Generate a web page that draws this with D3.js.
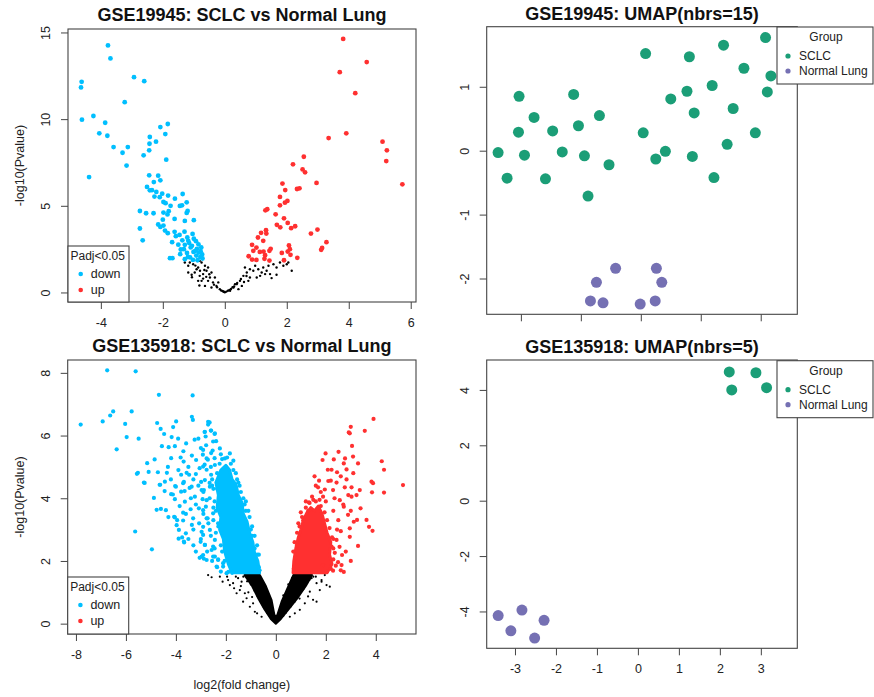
<!DOCTYPE html>
<html>
<head>
<meta charset="utf-8">
<script src="https://cdn.jsdelivr.net/npm/d3@7/dist/d3.min.js"></script>
<style>
  body { margin: 0; background: #fff; }
  svg { font-family: "Liberation Sans", Arial, Helvetica, sans-serif; }
</style>
</head>
<body>
<svg id="fig" width="874" height="697"></svg>
<script>
// ---- GSE19945 volcano (log2FC, -log10 p) ----
var tlDown = [[-3.77,14.25],[-3.69,13.50],[-4.62,12.15],[-4.64,11.83],[-2.93,12.42],[-2.60,12.19],[-3.23,10.98],[-4.61,9.97],[-4.24,10.18],[-3.86,9.79],[-2.08,9.54],[-1.84,9.72],[-4.05,9.18],[-3.79,9.04],[-2.42,8.97],[-1.92,9.14],[-2.22,8.70],[-2.43,8.58],[-3.59,8.39],[-3.13,8.39],[-3.30,8.06],[-2.44,8.20],[-2.62,7.91],[-3.17,7.32],[-1.89,7.66],[-4.38,6.66],[-2.44,6.76],[-2.15,6.74],[-2.29,6.37],[-2.08,6.47],[-2.51,6.09],[-2.42,5.89],[-2.21,5.80],[-2.27,5.53],[-2.02,5.70],[-1.83,5.59],[-1.98,5.22],[-1.91,5.15],[-1.61,5.41],[-1.36,5.68],[-1.45,4.99],[-1.38,5.03],[-1.23,5.20],[-2.74,4.70],[-2.54,4.57],[-2.30,4.57],[-1.98,4.61],[-1.81,4.69],[-1.62,4.24],[-1.23,4.59],[-1.20,4.70],[-1.29,4.13],[-1.00,4.17],[-2.15,3.92],[-2.08,3.78],[-1.98,3.86],[-1.93,3.57],[-2.74,3.69],[-1.84,3.42],[-2.65,3.01],[-1.58,3.25],[-1.46,3.32],[-1.30,3.51],[-1.21,3.17],[-1.04,3.38],[-1.37,3.01],[-1.18,2.98],[-0.93,2.96],[-1.50,2.76],[-1.29,2.75],[-1.06,2.69],[-0.85,2.78],[-1.77,1.98],[-1.69,1.98],[-1.44,2.21],[-1.22,2.28],[-1.19,2.05],[-1.01,2.34],[-0.92,2.13],[-0.79,2.04],[-1.03,1.88],[-1.29,1.92],[-0.88,1.86],[-0.72,1.96],[-1.12,2.02],[-1.42,2.48],[-0.90,2.52],[-0.78,2.38],[-0.73,2.19],[-1.10,2.60],[-0.95,2.40],[-1.15,2.85],[-0.84,2.30],[-1.32,2.50],[-1.00,3.10],[-0.76,2.60],[-1.62,3.50],[-1.70,2.90],[-2.00,4.20],[-1.75,5.00],[-2.10,5.50],[-2.35,5.90],[-1.85,4.50]];
var tlUp = [[3.82,14.63],[4.58,13.29],[3.71,12.71],[4.21,11.50],[3.35,8.91],[3.92,9.18],[5.09,8.70],[5.23,8.20],[5.21,7.58],[5.73,6.24],[2.55,7.83],[2.20,7.39],[2.51,7.10],[2.59,6.93],[2.96,6.32],[1.86,6.28],[1.95,5.91],[2.33,5.97],[2.41,6.01],[1.78,5.51],[2.02,5.28],[1.94,5.18],[1.78,5.03],[1.37,4.80],[1.31,4.74],[1.64,4.51],[1.91,4.28],[2.03,4.01],[1.68,3.90],[1.79,3.76],[2.14,3.71],[2.27,3.82],[1.33,3.59],[1.34,3.40],[1.17,3.44],[1.07,3.17],[1.24,2.98],[2.78,3.40],[2.99,3.63],[3.28,2.90],[3.14,2.57],[3.11,2.46],[0.88,2.75],[1.02,2.59],[0.92,2.40],[1.13,2.34],[1.25,2.36],[1.30,2.15],[1.48,2.52],[1.44,2.40],[2.07,2.71],[2.10,2.50],[2.03,2.36],[1.84,2.28],[2.12,2.17],[0.77,2.09],[0.88,1.90],[1.02,1.88],[1.28,1.94],[1.44,1.84],[1.91,1.86],[2.34,2.00]];
var tlNs = [[-1.29,1.73],[-1.18,1.54],[-1.02,1.63],[-0.86,1.44],[-0.75,1.73],[-0.64,1.54],[-0.97,1.15],[-0.81,0.96],[-0.70,1.06],[-0.59,1.25],[-0.48,0.86],[-0.75,0.67],[-0.64,0.38],[-0.38,0.58],[-0.27,0.38],[-0.16,0.19],[-0.05,0.06],[-0.54,0.67],[-0.43,0.29],[-0.86,0.67],[-1.07,1.02],[-1.18,1.15],[-0.91,1.34],[-0.54,1.44],[-0.43,1.15],[-0.32,0.86],[-0.21,0.58],[-0.81,1.82],[-1.13,1.73],[-1.06,0.88],[-0.82,0.40],[-0.60,0.90],[-0.70,0.80],[-0.66,1.30],[-0.50,1.05],[-0.35,0.45],[-0.25,0.30],[-0.12,0.12],[-0.95,1.55],[-0.80,1.25],
  [0.00,0.01],[0.05,0.05],[-0.03,0.04],[0.10,0.10],[-0.08,0.09],[0.15,0.15],[0.20,0.20],[0.25,0.30],[0.30,0.35],
  [0.17,0.10],[0.28,0.29],[0.38,0.48],[0.49,0.67],[0.60,0.96],[0.71,1.15],[0.65,1.44],[0.81,1.34],[0.92,1.25],[0.98,1.54],[1.08,1.34],[1.19,1.15],[1.24,1.44],[1.35,1.25],[1.46,1.06],[1.51,0.83],[1.67,1.02],[1.78,1.73],[1.89,1.54],[2.00,1.63],[2.05,1.73],[2.16,1.25],[1.67,1.44],[1.57,1.63],[1.14,0.96],[0.81,0.86],[0.55,0.38],[0.44,0.19],[0.33,0.48],[0.76,0.67],[1.03,0.86],[1.41,1.54],[1.30,1.06],[0.40,0.55],[0.52,0.78],[0.62,0.60],[0.70,0.95]];

// ---- GSE19945 UMAP ----
var trSCLC = [[-2.38,-0.03],[-2.23,-0.43],[-2.03,0.85],[-2.04,0.29],[-1.94,-0.07],[-1.78,0.52],[-1.59,-0.44],[-1.47,0.31],[-1.31,-0.02],[-1.12,0.88],[-1.04,0.39],[-0.94,-0.08],[-0.88,-0.71],[-0.69,0.55],[-0.53,-0.22],[0.08,1.52],[0.04,0.28],[0.25,-0.13],[0.41,-0.01],[0.50,0.81],[0.77,0.93],[0.81,1.47],[0.89,0.59],[0.86,-0.09],[1.19,1.02],[1.22,-0.42],[1.38,1.65],[1.44,0.10],[1.54,0.66],[1.72,1.29],[1.91,0.28],[2.08,1.77],[2.17,1.17],[2.11,0.92]];
var trNormal = [[-0.42,-1.84],[-0.74,-2.06],[-0.84,-2.35],[-0.63,-2.38],[-0.01,-2.40],[0.24,-2.35],[0.35,-2.06],[0.26,-1.84]];

// ---- GSE135918 volcano ----
var blDown = [[-6.75,8.08],[-5.61,8.05],[-4.68,7.30],[-3.33,7.28],[-6.51,6.77],[-6.63,6.64],[-6.93,6.45],[-5.77,6.77],[-7.81,6.35],[-6.03,6.37],[-4.75,6.40],[-3.99,6.45],[-3.36,6.60],[-3.32,6.50],[-4.61,6.21],[-4.11,6.27],[-5.97,5.95],[-5.49,5.90],[-4.47,6.05],[-4.17,5.95],[-3.91,5.90],[-6.37,5.56],[-4.56,5.66],[-4.29,5.63],[-4.04,5.66],[-3.59,5.75],[-3.25,5.87],[-2.65,6.42],[-2.71,6.35],[-2.85,6.11],[-2.81,5.97],[-2.59,6.16],[-2.45,6.05],[-5.15,5.12],[-4.85,5.24],[-4.19,5.28],[-4.32,5.00],[-3.81,5.30],[-3.69,5.17],[-3.36,5.36],[-3.19,5.22],[-5.52,4.81],[-5.56,4.78],[-5.09,4.84],[-4.72,4.83],[-4.36,4.81],[-5.25,4.49],[-4.63,4.43],[-4.03,4.39],[-3.57,4.81],[-3.79,4.75],[-3.68,4.52],[-3.47,4.75],[-3.20,4.77],[-3.05,4.96],[-2.85,5.07],[-2.72,5.23],[-2.59,5.44],[-2.79,5.69],[-2.39,5.82],[-2.45,5.28],[-2.92,5.39],[-2.77,4.91],[-2.59,4.75],[-2.65,4.49],[-2.99,4.52],[-3.45,4.33],[-3.65,4.23],[-4.88,4.01],[-4.45,4.23],[-4.12,4.12],
  [-5.63,2.94],[-4.96,2.37],[-5.28,4.50],[-4.65,4.43],[-4.60,3.66],[-4.40,3.62],[-4.19,4.13],[-4.04,3.97],[-4.00,4.37],[-3.79,4.21],[-3.71,4.48],[-3.64,3.89],[-3.71,3.54],[-4.04,3.39],[-3.97,3.14],[-3.71,3.29],[-3.60,2.88],[-3.89,2.71],[-3.67,2.59],[-3.41,3.65],[-3.31,3.36],[-3.36,3.15],[-3.07,3.20],[-2.97,2.93],[-3.01,2.61],[-2.84,2.51],[-3.08,3.68],[-2.80,3.73],[-2.93,3.97],[-2.73,3.36],[-2.64,2.99],[-2.57,2.35],[-2.88,2.07],[-2.77,2.03],[-2.51,2.14],[-2.31,2.05],[-2.35,1.80],[-2.11,1.93],[-2.20,1.66],[-2.44,2.67],[-2.31,3.20],[-2.51,3.52],[-2.64,4.37],[-2.97,4.26],[-3.24,4.05],[-3.37,4.37],[-4.44,4.53],
  [-2.71,6.44],[-2.84,6.12],[-2.60,6.16],[-2.51,5.81],[-2.44,6.07],[-2.91,5.54],[-2.53,5.52],[-2.24,5.59],[-1.84,5.43],[-2.04,5.27],[-2.77,5.27],[-2.91,5.01],[-2.44,5.06],[-2.84,4.58],[-2.88,4.26],[-2.77,3.94],[-2.91,3.62],[-2.77,3.36],[-2.91,3.09],[-2.91,2.83],[-2.84,2.51],[-2.91,2.19],[-2.51,2.46],[-2.44,2.14],[-2.31,2.03],[-2.37,1.82],[-2.11,1.82],[-1.97,1.61],
  [-3.88,2.99],[-3.68,2.62],[-4.07,3.41],[-4.77,3.63],[-2.97,2.14],[-3.20,2.30],[-3.05,2.10],[-3.30,2.50],[-3.50,2.70],
  [-3.50,5.00],[-3.30,4.60],[-3.10,4.40],[-2.90,4.20],[-3.40,4.00],[-3.20,3.80],[-2.90,3.50],[-3.60,3.50],[-3.30,3.00],[-2.70,3.20],[-2.60,2.80],[-3.00,2.70],[-2.75,2.30],[-2.55,2.00],[-2.65,4.00],[-2.55,4.60],[-2.60,5.00],[-3.00,5.60],[-3.10,5.90],[-3.70,5.50],[-3.90,4.90],[-4.20,4.60],[-3.85,3.75],[-4.30,3.40],[-3.95,3.30],[-3.75,2.75],[-2.50,3.70],[-2.50,4.30],[-2.20,5.40],[-2.00,5.00],
  [-1.70,4.90],[-1.50,4.50],[-1.40,4.20],[-1.25,3.80],[-1.20,3.60],[-1.00,3.00],[-0.95,2.80],[-0.85,2.40],[-0.75,2.20],[-0.68,1.80],[-0.65,1.70],[-1.90,1.65],[-1.75,1.62],
  [-2.45,2.40],[-2.40,2.90],[-2.50,3.30],[-2.45,3.90],[-2.55,4.40],[-2.35,4.80],[-2.25,5.10],[-2.15,5.25],[-1.95,5.30],[-1.70,5.20],[-1.60,4.80],[-1.45,4.40],[-1.30,4.00],[-1.20,3.90],[-1.05,3.40],[-0.95,3.10],[-0.85,2.80],[-0.75,2.50],[-0.68,2.20],[-2.20,2.50],[-2.30,3.10],[-2.40,3.60],[-2.35,4.30],[-2.05,2.00],[-2.15,2.30],[-1.10,3.60],[-1.55,4.60],[-1.80,5.10]];
var blDownCore = [[-2.20,4.90],[-2.00,5.05],[-1.85,4.90],[-1.75,4.60],[-1.60,4.45],[-1.50,4.10],[-1.35,3.85],[-1.30,3.50],[-1.15,3.25],[-1.05,2.90],[-0.92,2.60],[-0.85,2.25],[-0.72,2.00],[-0.65,1.62],[-1.75,1.62],[-1.90,1.90],[-2.05,2.30],[-2.10,2.70],[-2.25,3.00],[-2.20,3.40],[-2.35,3.70],[-2.30,4.10],[-2.40,4.50]];
var blUp = [[3.91,6.53],[3.00,6.28],[2.92,6.10],[2.96,6.07],[3.56,6.15],[3.05,5.67],[2.51,5.48],[1.99,5.43],[3.09,5.33],[1.87,5.22],[2.32,5.24],[2.77,5.27],[2.72,5.11],[3.29,5.11],[4.24,5.18],[4.33,4.91],[2.08,4.91],[2.23,4.91],[2.45,4.83],[2.83,4.92],[1.73,4.56],[2.20,4.56],[2.43,4.50],[2.83,4.60],[1.69,4.35],[1.96,4.28],[2.29,4.26],[2.76,4.35],[3.03,4.35],[3.36,4.26],[3.83,4.53],[3.89,4.48],[3.85,4.19],[4.33,4.18],[5.09,4.42],[1.32,3.87],[1.89,4.05],[2.56,3.94],[3.03,4.05],[3.23,4.10],[3.39,3.68],[2.72,3.73],[2.89,3.47],[3.12,3.25],[3.63,3.31],[3.73,3.09],[2.96,3.04],[3.25,3.31],[2.96,2.77],[3.29,2.48],[2.65,2.19],[2.36,2.26],[2.49,1.96],[2.63,1.87],[2.29,1.69],[2.72,1.65],[1.89,1.87],[2.23,2.46],[2.43,2.67],[3.87,2.96],
  [0.90,3.20],[1.00,3.55],[1.20,3.90],[1.45,4.05],[1.60,4.40],[1.80,4.20],[2.00,3.90],[2.30,3.60],[2.50,3.30],[2.60,2.95],[2.55,2.45],[2.40,1.85],[2.05,1.66],[1.10,3.30],[1.30,3.60],[2.70,3.80],[2.90,4.10],[3.00,3.60],[2.35,4.00],[1.55,4.70],[2.60,4.70],[3.10,4.80],[2.10,4.55],[2.80,2.30],[3.00,2.00],[2.60,1.70],[2.30,2.70],[2.45,3.00],[0.72,1.75],[0.78,2.10],[0.85,2.50],
  [0.70,2.30],[0.75,2.60],[0.85,2.90],[0.95,3.10],[1.05,3.40],[1.20,3.70],[1.35,3.85],[1.60,3.90],[1.80,3.75],[1.95,3.55],[2.05,3.30],[2.15,3.05],[2.25,2.75],[2.30,2.40],[2.30,2.05],[2.20,1.75],[1.50,3.95],[1.75,3.95]];
var blUpCore = [[0.69,1.62],[0.72,2.00],[0.80,2.40],[0.90,2.75],[1.00,3.00],[1.10,3.30],[1.25,3.55],[1.40,3.70],[1.55,3.60],[1.70,3.75],[1.85,3.50],[1.95,3.20],[2.05,2.90],[2.20,2.60],[2.15,2.20],[2.25,1.90],[2.05,1.62]];
var blNs = [[-2.71,1.55],[-2.57,1.48],[-2.13,1.34],[-1.91,1.39],[-1.84,1.23],[-1.71,1.29],[-1.67,1.13],[-1.51,1.45],[-1.37,1.34],[-1.24,0.97],[-1.17,0.81],[-1.31,0.70],[-1.04,0.54],[-0.91,0.65],[-0.84,0.38],[-0.75,0.33],[-0.57,0.22],[-1.44,1.07],[-1.57,0.97],[-2.24,1.50],[-1.95,1.50],[-1.60,1.50],[-1.40,1.20],[-1.10,1.00],[-0.95,0.85],
  [1.43,1.45],[1.63,1.29],[1.83,1.39],[1.96,1.55],[2.03,1.23],[1.36,1.02],[1.49,0.76],[1.63,0.70],[1.16,0.65],[0.96,0.44],[0.76,0.33],[0.56,0.22],[1.29,0.87],[1.76,1.07],[1.09,1.18],[2.16,1.18],[1.83,1.34],[1.60,1.50],[1.25,1.30],[0.95,0.80],
  [-1.30,1.50],[-1.15,1.35],[-1.00,1.25],[-0.85,1.05],[-0.75,0.90],[-0.60,0.70],[-0.50,0.55],[-0.35,0.35],[-0.25,0.25],[1.50,1.50],[1.35,1.40],[1.10,1.10],[0.95,0.95],[0.75,0.70],[0.60,0.55],[0.40,0.35],[0.30,0.25],[-0.60,1.45],[-0.45,1.20],[-0.30,0.90],[0.30,0.90],[0.50,1.25],[0.65,1.45]];
var blNsCore = [[-1.25,1.55],[-0.95,1.20],[-0.70,0.80],[-0.45,0.45],[-0.20,0.15],[0.00,0.00],[0.20,0.15],[0.50,0.45],[0.85,0.80],[1.20,1.20],[1.45,1.55],[0.70,1.55],[0.45,1.10],[0.23,0.70],[0.05,0.25],[-0.05,0.25],[-0.17,0.75],[-0.40,1.20],[-0.64,1.55]];

// ---- GSE135918 UMAP ----
var brSCLC = [[2.23,4.65],[2.88,4.62],[2.29,4.00],[3.14,4.08]];
var brNormal = [[-3.41,-4.15],[-2.83,-3.95],[-3.10,-4.70],[-2.29,-4.32],[-2.52,-4.96]];

// ticks
var tlXTicks = [-4, -2, 0, 2, 4, 6], tlYTicks = [0, 5, 10, 15];
var trXTicks = [-2, -1, 0, 1, 2], trYTicks = [-2, -1, 0, 1];
var blXTicks = [-8, -6, -4, -2, 0, 2, 4], blYTicks = [0, 2, 4, 6, 8];
var brXTicks = [-3, -2, -1, 0, 1, 2, 3], brYTicks = [-4, -2, 0, 2, 4];

var groups = ["SCLC", "Normal Lung"];
var dirs = ["down", "up"];

var BLUE = "#00bfff", RED = "#ff3030", GREEN = "#1b9e77", PURPLE = "#7570b3";

var svg = d3.select("#fig");
var defs = svg.append("defs");

function makePanel(o) {
  var id = "clip" + o.id;
  defs.append("clipPath").attr("id", id).append("rect")
    .attr("x", o.clip[0]).attr("y", o.clip[1]).attr("width", o.clip[2]).attr("height", o.clip[3]);
  var g = svg.append("g").attr("clip-path", "url(#" + id + ")");

  var x = d3.scaleLinear().domain(o.xDom).range([o.x0, o.x1]);
  var y = d3.scaleLinear().domain(o.yDom).range([o.y1, o.y0]);

  g.append("text")
    .attr("x", (o.x0 + o.x1) / 2).attr("y", o.titleY).attr("dy", "0.35em")
    .attr("text-anchor", "middle").attr("font-weight", "bold").attr("font-size", 18)
    .attr("fill", "#111").text(o.title);

  var xa = g.append("g").attr("transform", "translate(0," + o.y1 + ")")
    .call(d3.axisBottom(x).tickValues(o.xTicks).tickSize(7).tickPadding(9)
      .tickFormat(o.xLabels ? (d => String(d)) : ""));
  var ya = g.append("g").attr("transform", "translate(" + o.x0 + ",0)")
    .call(d3.axisLeft(y).tickValues(o.yTicks).tickSize(7).tickFormat(d => String(d)));
  [xa, ya].forEach(a => {
    a.select(".domain").remove();
    a.selectAll("line").attr("stroke", "#444");
    a.selectAll("text").attr("font-size", 12.5).attr("fill", "#222")
      .attr("font-family", "'Liberation Sans', Arial, sans-serif");
  });
  ya.selectAll("text")
    .attr("x", null).attr("dy", "0.35em").attr("text-anchor", "middle")
    .attr("transform", "translate(-22,0) rotate(-90)");

  if (o.ylab) {
    g.append("text")
      .attr("transform", "translate(" + o.ylabX + "," + (o.y0 + o.y1) / 2 + ") rotate(-90)")
      .attr("dy", "0.35em").attr("text-anchor", "middle").attr("font-size", 12.5)
      .attr("fill", "#222").text(o.ylab);
  }
  if (o.xlab) {
    g.append("text")
      .attr("x", (o.x0 + o.x1) / 2).attr("y", o.xlabY).attr("dy", "0.35em")
      .attr("text-anchor", "middle").attr("font-size", 12.5).attr("fill", "#222").text(o.xlab);
  }
  var plot = g.append("g");
  g.append("rect")
    .attr("x", o.x0).attr("y", o.y0).attr("width", o.x1 - o.x0).attr("height", o.y1 - o.y0)
    .attr("fill", "none").attr("stroke", "#444").attr("stroke-width", 1.1);
  return {g: g, plot: plot, x: x, y: y};
}

function dots(p, data, r, color) {
  p.plot.append("g").selectAll("circle").data(data).enter()
    .append("circle")
    .attr("cx", d => p.x(d[0])).attr("cy", d => p.y(d[1]))
    .attr("r", r).attr("fill", color);
}

// dense centre of a cloud, drawn as a filled outline
function core(p, data, color, sw) {
  var line = d3.line().x(d => p.x(d[0])).y(d => p.y(d[1])).curve(d3.curveLinearClosed);
  p.plot.append("path").attr("d", line(data))
    .attr("fill", color).attr("stroke", color)
    .attr("stroke-width", sw).attr("stroke-linejoin", "round");
}

function volcanoLegend(p, bottom, h) {
  var x0 = p.x.range()[0];
  var lg = p.g.append("g");
  lg.append("rect").attr("x", x0).attr("y", bottom - h).attr("width", 61).attr("height", h)
    .attr("fill", "#fff").attr("stroke", "#444").attr("stroke-width", 1.1);
  lg.append("text").attr("x", x0 + 2.5).attr("y", bottom - h + 10).attr("dy", "0.35em")
    .attr("font-size", 12).attr("fill", "#222").text("Padj<0.05");
  dirs.forEach((k, i) => {
    var yy = bottom - h + 28 + i * 16;
    lg.append("circle").attr("cx", x0 + 12.7).attr("cy", yy).attr("r", 2.3).attr("fill", i ? RED : BLUE);
    lg.append("text").attr("x", x0 + 22.7).attr("y", yy).attr("dy", "0.35em")
      .attr("font-size", 12.5).attr("fill", "#222").text(k);
  });
}

function umapLegend(p, top) {
  var lg = p.g.append("g");
  lg.append("rect").attr("x", 777).attr("y", top).attr("width", 96).attr("height", 57)
    .attr("fill", "#fff").attr("stroke", "#444").attr("stroke-width", 1.1);
  lg.append("text").attr("x", 826).attr("y", top + 10).attr("dy", "0.35em")
    .attr("text-anchor", "middle").attr("font-size", 12).attr("fill", "#222").text("Group");
  groups.forEach((k, i) => {
    var yy = top + 29 + i * 15;
    lg.append("circle").attr("cx", 788).attr("cy", yy).attr("r", 2.6).attr("fill", i ? PURPLE : GREEN);
    lg.append("text").attr("x", 799).attr("y", yy).attr("dy", "0.35em")
      .attr("font-size", 12).attr("fill", "#222").text(k);
  });
}

// top-left
var tl = makePanel({id: "tl", clip: [0, 0, 440, 334], x0: 68, x1: 416, y0: 29, y1: 302,
  xDom: [-5.06, 6.17], yDom: [-0.55, 15.2], xTicks: tlXTicks, yTicks: tlYTicks, xLabels: true,
  title: "GSE19945: SCLC vs Normal Lung", titleY: 15, ylab: "-log10(Pvalue)", ylabX: 20});
dots(tl, tlNs, 1.2, "#000");
dots(tl, tlDown, 2.4, BLUE);
dots(tl, tlUp, 2.4, RED);
volcanoLegend(tl, 302, 56);

// top-right
var tr = makePanel({id: "tr", clip: [440, 0, 434, 330], x0: 486.7, x1: 797.3, y0: 26.7, y1: 314.3,
  xDom: [-2.57, 2.61], yDom: [-2.56, 1.94], xTicks: trXTicks, yTicks: trYTicks, xLabels: false,
  title: "GSE19945: UMAP(nbrs=15)", titleY: 13.5});
dots(tr, trSCLC, 5.5, GREEN);
dots(tr, trNormal, 5.5, PURPLE);
umapLegend(tr, 27);

// bottom-left
var bl = makePanel({id: "bl", clip: [0, 334, 440, 363], x0: 67.7, x1: 416, y0: 360, y1: 634,
  xDom: [-8.33, 5.61], yDom: [-0.33, 8.41], xTicks: blXTicks, yTicks: blYTicks, xLabels: true,
  title: "GSE135918: SCLC vs Normal Lung", titleY: 346, ylab: "-log10(Pvalue)", ylabX: 20,
  xlab: "log2(fold change)", xlabY: 685});
core(bl, blNsCore, "#000", 2);
dots(bl, blNs, 1.1, "#000");
core(bl, blDownCore, BLUE, 3);
dots(bl, blDown, 2.1, BLUE);
core(bl, blUpCore, RED, 3);
dots(bl, blUp, 2.1, RED);
volcanoLegend(bl, 634, 57);

// bottom-right
var br = makePanel({id: "br", clip: [440, 330, 434, 367], x0: 486.7, x1: 797.3, y0: 360, y1: 648.3,
  xDom: [-3.69, 3.89], yDom: [-5.33, 5.08], xTicks: brXTicks, yTicks: brYTicks, xLabels: true,
  title: "GSE135918: UMAP(nbrs=5)", titleY: 346.5});
dots(br, brSCLC, 5.5, GREEN);
dots(br, brNormal, 5.5, PURPLE);
umapLegend(br, 360.7);
</script>
</body>
</html>
